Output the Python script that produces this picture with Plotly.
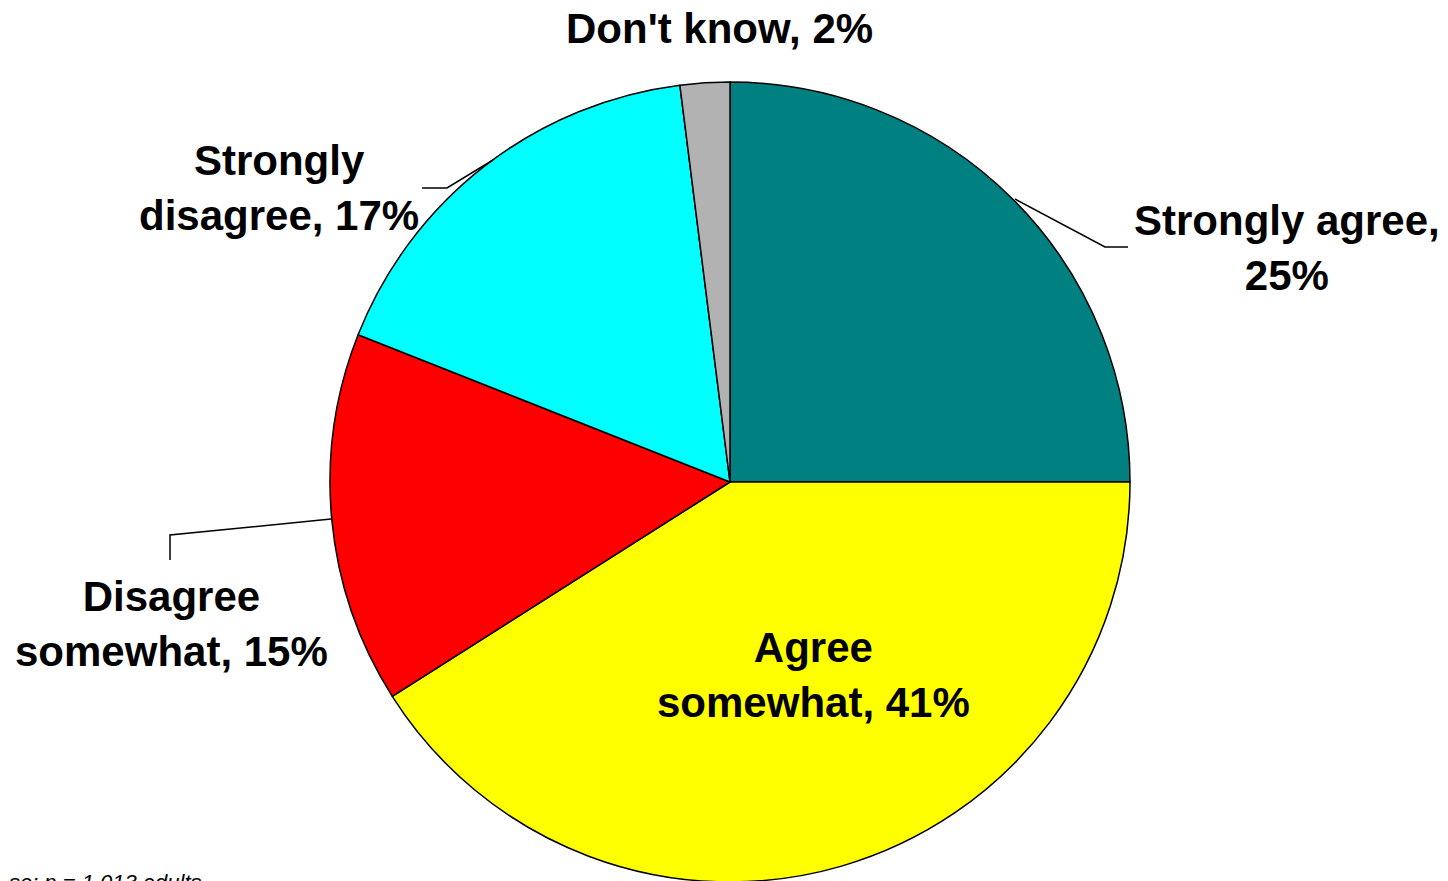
import plotly.graph_objects as go

labels = ["Strongly agree", "Agree somewhat", "Disagree somewhat", "Strongly disagree", "Don't know"]
values = [25, 41, 15, 17, 2]
colors = ["#008080", "#FFFF00", "#FF0000", "#00FFFF", "#B2B2B2"]
label_texts = ["Strongly agree,<br>25%", "Agree<br>somewhat, 41%", "Disagree<br>somewhat, 15%",
               "Strongly<br>disagree, 17%", "Don't know, 2%"]
footnote = "Base: n = 1,013 adults"

W, H = 1448, 900
OFF = 8  # page body margin
cx, cy, r = 730, 482, 400  # pixel layout of the pie (screen coords)


def px(x):
    return (x - OFF) / W


def py(y):
    return 1 - (y - OFF) / H


fig = go.Figure(go.Pie(
    labels=labels, values=values, sort=False, direction="clockwise", rotation=0,
    marker=dict(colors=colors, line=dict(color="black", width=1.5)),
    textinfo="none", hoverinfo="label+percent", showlegend=False,
    domain=dict(x=[px(cx - r), px(cx + r)], y=[py(cy + r), py(cy - r)]),
))

font = dict(family="Liberation Sans, Arial, sans-serif", size=42, color="black")
label_pos = [(1287, 248), (813, 675), (171, 624), (279, 188), (719, 28)]
for t, (x, y) in zip(label_texts, label_pos):
    fig.add_annotation(x=px(x), y=py(y), xref="paper", yref="paper", text="<b>%s</b>" % t,
                       showarrow=False, font=font, xanchor="center", yanchor="middle",
                       borderpad=0)

leaders = [
    [(1015, 199), (1105, 247), (1128, 247)],
    [(493, 160), (447, 188), (422, 188)],
    [(331, 519), (170, 535), (170, 560)],
]
for pts in leaders:
    path = "M " + " L ".join("%f,%f" % (px(x), py(y)) for x, y in pts)
    fig.add_shape(type="path", path=path, xref="paper", yref="paper",
                  line=dict(color="black", width=1.5))

fig.add_annotation(x=px(-20), y=py(868), xref="paper", yref="paper", text="<i>%s</i>" % footnote,
                   showarrow=False, xanchor="left", yanchor="top",
                   font=dict(family="Liberation Sans, Arial, sans-serif", size=22, color="black"))

fig.update_layout(width=W, height=H, margin=dict(l=0, r=0, t=0, b=0),
                  paper_bgcolor="white", plot_bgcolor="white")
fig.write_html("out.html")
